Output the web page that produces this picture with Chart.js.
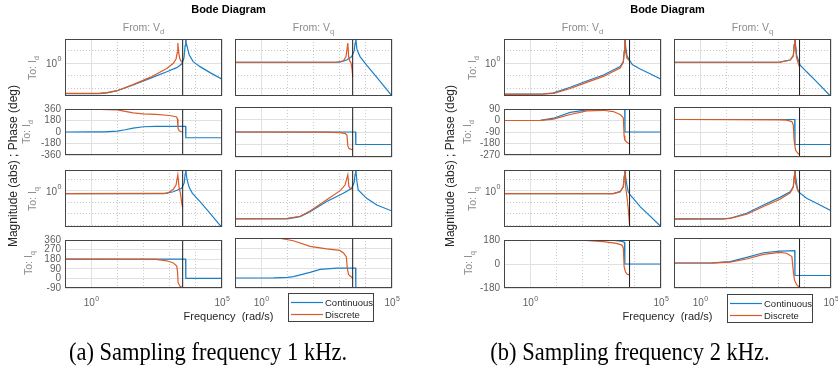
<!DOCTYPE html>
<html>
<head>
<meta charset="utf-8">
<script src="https://cdn.jsdelivr.net/npm/chart.js@4.4.1/dist/chart.umd.min.js"></script>
<style>
  body { margin: 0; background: #fff; }
  #page { position: relative; width: 838px; height: 370px; overflow: hidden; font-family: "Liberation Sans", Arial, sans-serif; }
  #page canvas { position: absolute; }
  .t { position: absolute; white-space: nowrap; line-height: 1; }
  .s { font-size: 72%; position: relative; top: 0.4em; }
  .cap { font-family: "Liberation Serif", "Times New Roman", serif; font-size: 22.5px; color: #000; }
  .legend { position: absolute; z-index: 5; background: #fff; border: 1px solid #404040; box-sizing: border-box; font-size: 9.5px; color: #262626; }
  .legend svg { position: absolute; left: 0; top: 0; }
  .legend .tx { position: absolute; line-height: 1; }
</style>
</head>
<body>
<div id="page"></div>
<script>
// frequency in rad/s, magnitude in abs, phase in deg
// (a) fs = 1 kHz, (b) fs = 2 kHz
// names: <fig><Mag|Ph><To><From>_<Cont|Disc>, e.g. aMagDQ = fig (a), from Vq to Id

const seriesNames = ['Continuous', 'Discrete'];
const seriesColors = ['#1a7fc6', '#dc5a26'];
const nyquist = [3142, 6283];

const xTickValues = [0.1, 1, 10, 100, 1000, 10000, 100000];
const xTickText = ['', '10^0', '', '', '', '', '10^5'];
const magTicksTop = [0.01, 0.1, 1, 10];
const magTicksLow = [0.001, 0.01, 0.1, 1, 10];
const magTickText = { 1: '10^0' };
const magRangeTop = [0.0025, 85];
const magRangeLow = [0.00074, 67];
const aPhTicksD = [-360, -180, 0, 180, 360];
const aPhTicksQ = [-90, 0, 90, 180, 270, 360];
const bPhTicksD = [-270, -180, -90, 0, 90];
const bPhTicksQ = [-180, 0, 180];

// ---- (a) 1 kHz ----
const aMagDD_Cont = [[0.1,0.0038],[2,0.0038],[4,0.0045],[9.5,0.0063],[40,0.0186],[178,0.063],[776,0.21],[1860,0.45],[2880,0.87],[3500,2.5],[3900,25],[4100,300],[4300,40],[4800,16],[5600,4.6],[7900,1.35],[14500,0.54],[35000,0.18],[100000,0.054]];
const aMagDD_Disc = [[0.1,0.004],[2,0.004],[4,0.0047],[9.5,0.0066],[40,0.02],[178,0.075],[776,0.38],[1380,1.0],[1750,2.2],[1950,7],[2050,40],[2200,8],[2400,2.6],[2700,1.5],[3142,1.26]];
const aMagDQ_Cont = [[0.1,1.2],[500,1.2],[1000,1.25],[1860,1.8],[2900,3.4],[3600,10],[3900,40],[4100,300],[4300,40],[4600,12],[6000,3.4],[10700,0.72],[26300,0.075],[100000,0.0025]];
const aMagDQ_Disc = [[0.1,1.2],[700,1.2],[1380,1.5],[1750,3.4],[2050,40],[2200,3.5],[2400,1.6],[2700,1.1],[2950,0.4],[3142,0.08]];
const aPhDD_Cont = [[0.1,0],[1,2],[3,3],[10,15],[20,35],[40,62],[100,82],[300,89],[4050,90],[4150,-90],[100000,-90]];
const aPhDD_Disc = [[0.1,360],[1,358],[10,345],[40,300],[100,285],[300,275],[1000,258],[1850,235],[1980,200],[2080,60],[2300,20],[2700,8],[3142,0]];
const aPhDQ_Cont = [[0.1,0],[4050,0],[4150,-180],[100000,-180]];
const aPhDQ_Disc = [[0.1,0],[300,-2],[1000,-8],[1600,-20],[1900,-45],[2050,-200],[2300,-240],[3142,-255]];
const aMagQD_Cont = [[0.1,0.59],[600,0.6],[1380,0.86],[2880,1.7],[3600,5],[3900,30],[4100,300],[4300,30],[4600,10],[5600,2],[7400,0.63],[14500,0.12],[35000,0.0115],[83000,0.0011],[100000,0.00074]];
const aMagQD_Disc = [[0.1,0.59],[800,0.62],[1380,1.4],[1750,3.3],[2050,25],[2300,2],[2600,0.6],[2900,0.085],[3142,0.04]];
const aMagQQ_Cont = [[0.1,0.0037],[10,0.0038],[31,0.0059],[74,0.016],[320,0.12],[1380,0.63],[2880,1.7],[3600,6],[3900,30],[4100,300],[4300,30],[4600,6],[5100,1.23],[10700,0.23],[26300,0.06],[100000,0.018]];
const aMagQQ_Disc = [[0.1,0.004],[10,0.0041],[31,0.0064],[74,0.018],[320,0.17],[1050,1.07],[1600,3.3],[2050,25],[2250,2.5],[2600,1.6],[3142,1.5]];
const aPhQD_Cont = [[0.1,180],[4050,180],[4150,0],[100000,0]];
const aPhQD_Disc = [[0.1,180],[300,178],[780,165],[1380,145],[1860,115],[2000,60],[2100,-40],[2500,-75],[3142,-85]];
const aPhQQ_Cont = [[0.1,0],[3,1],[10,5],[17,12],[74,51],[180,78],[780,88],[4050,90],[4150,-90],[100000,-90]];
const aPhQQ_Disc = [[0.1,360],[5,358],[17,335],[74,285],[320,262],[1000,248],[1400,225],[1800,190],[1950,90],[2200,30],[3142,0]];

// ---- (b) 2 kHz ----
const bMagDD_Cont = [[0.1,0.0035],[3,0.0036],[7.8,0.0044],[34,0.0123],[145,0.039],[630,0.117],[2750,0.54],[3630,1.35],[3950,10],[4150,300],[4400,25],[5000,4],[6200,1.8],[8000,0.8],[16000,0.35],[40000,0.14],[100000,0.054]];
const bMagDD_Disc = [[0.1,0.0034],[3,0.0035],[7.8,0.004],[34,0.0098],[145,0.03],[630,0.09],[2750,0.42],[3630,1.2],[3950,8],[4150,300],[4400,10],[5000,2.5],[6283,1.6]];
const bMagDQ_Cont = [[0.1,1.2],[1100,1.22],[2750,1.8],[3630,4],[3950,30],[4150,300],[4400,30],[4900,4],[6600,0.72],[11700,0.21],[28000,0.035],[100000,0.0022]];
const bMagDQ_Disc = [[0.1,1.2],[1100,1.22],[2750,1.8],[3630,4],[3950,30],[4150,300],[4400,20],[4800,3],[5600,1.0],[6283,0.5]];
const bPhDD_Cont = [[0.1,0],[2.5,1],[7.8,18],[34,63],[145,83],[630,88],[4100,89],[4200,-90],[100000,-90]];
const bPhDD_Disc = [[0.1,0],[2.5,1],[7.8,11],[34,47],[145,75],[630,80],[1500,70],[2750,47],[3300,30],[3630,20],[3900,-120],[4150,-155],[5000,-170],[6283,-185]];
const bPhDQ_Cont = [[0.1,0],[4100,0],[4200,-180],[100000,-180]];
const bPhDQ_Disc = [[0.1,0],[1000,-2],[2000,-5],[3200,-15],[3630,-40],[3900,-150],[4400,-220],[5500,-245],[6283,-252]];
const bMagQD_Cont = [[0.1,0.59],[1500,0.6],[2750,0.87],[3630,2.4],[3950,20],[4150,300],[4400,20],[5000,3],[5600,0.87],[6600,0.45],[8700,0.23],[16000,0.044],[100000,0.0008]];
const bMagQD_Disc = [[0.1,0.59],[1500,0.6],[2750,0.87],[3630,2.4],[3950,20],[4150,300],[4400,3],[5000,0.3],[5600,0.03],[6283,0.0012]];
const bMagQQ_Cont = [[0.1,0.0037],[7.8,0.0038],[14,0.0043],[60,0.0115],[263,0.06],[1120,0.28],[2750,0.87],[3630,2.4],[3950,20],[4150,300],[4400,20],[5000,3],[5600,0.87],[11700,0.23],[28000,0.085],[100000,0.019]];
const bMagQQ_Disc = [[0.1,0.0036],[7.8,0.0037],[14,0.0041],[60,0.0095],[263,0.045],[1120,0.19],[2750,0.7],[3630,2.2],[3950,20],[4150,300],[4400,5],[5200,1.3],[6283,0.87]];
const bPhQD_Cont = [[0.1,180],[1000,180],[2000,176],[3200,170],[4000,163],[4150,0],[100000,0]];
const bPhQD_Disc = [[0.1,180],[100,178],[630,168],[2000,155],[3200,142],[3630,120],[3900,-20],[4400,-60],[5000,-75],[6283,-82]];
const bPhQQ_Cont = [[0.1,0],[3,1],[14,10],[60,41],[263,74],[1120,86],[4100,89],[4200,-90],[100000,-90]];
const bPhQQ_Disc = [[0.1,0],[3,0.5],[14,6],[60,29],[263,62],[1120,77],[2000,70],[3200,46],[3630,-60],[4000,-122],[4900,-158],[6283,-175]];

const ROW_TOP = [39, 107, 170, 238];
const ROW_H = [57, 50, 57, 50];
const PLOT_W = 157;
const page = document.getElementById('page');

const figs = [
  {
    left: [65, 235], center: 228.5, nyq: nyquist[0], phTicks: [aPhTicksD, aPhTicksQ],
    toX: [31.5, 26, 31.5, 28], ylabX: 13, legend: [288, 293], capX: 208,
    caption: '(a) Sampling frequency 1 kHz.',
    curves: [
      [[aMagDD_Cont, aMagDD_Disc], [aMagDQ_Cont, aMagDQ_Disc]],
      [[aPhDD_Cont, aPhDD_Disc], [aPhDQ_Cont, aPhDQ_Disc]],
      [[aMagQD_Cont, aMagQD_Disc], [aMagQQ_Cont, aMagQQ_Disc]],
      [[aPhQD_Cont, aPhQD_Disc], [aPhQQ_Cont, aPhQQ_Disc]]
    ]
  },
  {
    left: [504, 674], center: 667.5, nyq: nyquist[1], phTicks: [bPhTicksD, bPhTicksQ],
    toX: [471.5, 467, 471.5, 467.5], ylabX: 450, legend: [727, 294], capX: 630,
    caption: '(b) Sampling frequency 2 kHz.',
    curves: [
      [[bMagDD_Cont, bMagDD_Disc], [bMagDQ_Cont, bMagDQ_Disc]],
      [[bPhDD_Cont, bPhDD_Disc], [bPhDQ_Cont, bPhDQ_Disc]],
      [[bMagQD_Cont, bMagQD_Disc], [bMagQQ_Cont, bMagQQ_Disc]],
      [[bPhQD_Cont, bPhQD_Disc], [bPhQQ_Cont, bPhQQ_Disc]]
    ]
  }
];

const boxPlugin = {
  id: 'box',
  afterDraw(chart) {
    const a = chart.chartArea, ctx = chart.ctx;
    ctx.save();
    ctx.strokeStyle = '#454545';
    ctx.lineWidth = 1;
    ctx.strokeRect(a.left + 0.5, a.top + 0.5, a.right - a.left - 1, a.bottom - a.top - 1);
    ctx.restore();
  }
};

// draws "10^n" tick labels with a raised exponent, at the scale's own pixel positions
function drawPow(ctx, label, x, y, align) {
  const parts = label.split('^');
  ctx.font = '10px "Liberation Sans"';
  const wb = ctx.measureText(parts[0]).width;
  ctx.font = '7px "Liberation Sans"';
  const we = ctx.measureText(parts[1]).width;
  const x0 = align === 'right' ? x - wb - we : x - (wb + we) / 2;
  ctx.font = '10px "Liberation Sans"';
  ctx.fillText(parts[0], x0, y);
  ctx.font = '7px "Liberation Sans"';
  ctx.fillText(parts[1], x0 + wb + 0.5, y - 5.5);
}

const powPlugin = {
  id: 'pow',
  afterDraw(chart, args, opts) {
    const ctx = chart.ctx, a = chart.chartArea;
    ctx.save();
    ctx.fillStyle = '#5f5f5f';
    ctx.textAlign = 'left';
    ctx.textBaseline = 'alphabetic';
    if (opts.x) {
      xTickValues.forEach((v, i) => {
        if (xTickText[i]) drawPow(ctx, xTickText[i], chart.scales.x.getPixelForValue(v), a.bottom + 18, 'center');
      });
    }
    if (opts.y) {
      Object.keys(magTickText).forEach(k => {
        drawPow(ctx, magTickText[k], a.left - 4, chart.scales.y.getPixelForValue(Number(k)) + 3.6, 'right');
      });
    }
    ctx.restore();
  }
};

function gridStyle(isMajor) {
  const major = c => !c.tick || isMajor(c.tick.value);
  return {
    grid: { drawTicks: false, lineWidth: 1, color: c => major(c) ? '#e0e0e0' : '#c8c8c8' },
    border: { display: false, dash: c => major(c) ? [] : [1, 2] }
  };
}

const tickFont = { family: 'Liberation Sans', size: 10 };

function line(pts, color, order, width) {
  return {
    data: pts.map(p => ({ x: p[0], y: p[1] })),
    borderColor: color, borderWidth: width, pointRadius: 0,
    fill: false, tension: 0, order: order
  };
}

function panel(fig, row, col) {
  const left = fig.left[col], top = ROW_TOP[row], h = ROW_H[row];
  const showY = col === 0, showX = row === 3, isMag = row % 2 === 0;
  const L = showY ? 44 : 8, T = 8, R = 14, B = showX ? 26 : 8;
  const cv = document.createElement('canvas');
  cv.width = L + PLOT_W + R;
  cv.height = T + h + B;
  cv.style.left = (left - L) + 'px';
  cv.style.top = (top - T) + 'px';
  page.appendChild(cv);

  let yScale, yMin, yMax;
  if (isMag) {
    const ticks = row === 0 ? magTicksTop : magTicksLow;
    const range = row === 0 ? magRangeTop : magRangeLow;
    yMin = range[0]; yMax = range[1];
    yScale = Object.assign({
      type: 'logarithmic', min: yMin, max: yMax,
      afterBuildTicks: s => { s.ticks = ticks.map(v => ({ value: v })); },
      ticks: { display: false }
    }, gridStyle(v => v === 1));
  } else {
    const ticks = fig.phTicks[row === 1 ? 0 : 1];
    yMin = ticks[0]; yMax = ticks[ticks.length - 1];
    yScale = Object.assign({
      type: 'linear', min: yMin, max: yMax,
      afterBuildTicks: s => { s.ticks = ticks.map(v => ({ value: v })); },
      ticks: { display: showY, autoSkip: false, padding: 4, font: tickFont, color: '#5f5f5f',
               callback: v => String(v) }
    }, gridStyle(() => true));
  }
  yScale.afterFit = s => { s.width = L; };

  const xScale = Object.assign({
    type: 'logarithmic', min: xTickValues[0], max: xTickValues[xTickValues.length - 1],
    afterBuildTicks: s => { s.ticks = xTickValues.map(v => ({ value: v })); },
    afterFit: s => { s.height = B; },
    ticks: { display: false }
  }, gridStyle(v => v === 1 || v === 0.1 || v === 100000));

  const pair = fig.curves[row][col];
  new Chart(cv, {
    type: 'line',
    data: {
      datasets: [
        line(pair[0], seriesColors[0], 2, 1.2),
        line(pair[1], seriesColors[1], 1, 1.2),
        line([[fig.nyq, yMin], [fig.nyq, yMax]], '#1a1a1a', 0, 1)
      ]
    },
    options: {
      responsive: false, animation: false, devicePixelRatio: 1,
      layout: { padding: { left: 0, top: T, right: R, bottom: 0 } },
      plugins: {
        legend: { display: false }, tooltip: { enabled: false },
        pow: { x: showX, y: showY && isMag }
      },
      scales: { x: xScale, y: yScale }
    },
    plugins: [boxPlugin, powPlugin]
  });
}

function text(html, x, y, css, rotate) {
  const d = document.createElement('div');
  d.className = 't';
  d.innerHTML = html;
  d.style.left = x + 'px';
  d.style.top = y + 'px';
  d.style.transform = 'translate(-50%,-50%)' + (rotate ? ' rotate(-90deg)' : '');
  Object.assign(d.style, css);
  page.appendChild(d);
  return d;
}

function legend(x, y) {
  const lg = document.createElement('div');
  lg.className = 'legend';
  Object.assign(lg.style, { left: x + 'px', top: y + 'px', width: '86px', height: '29px' });
  let svg = '<svg width="86" height="29" xmlns="http://www.w3.org/2000/svg">';
  seriesNames.forEach((name, i) => {
    const ly = 8.5 + 12 * i;
    svg += '<line x1="2" x2="34" y1="' + ly + '" y2="' + ly + '" stroke="' + seriesColors[i] + '" stroke-width="1.2"/>';
  });
  svg += '</svg>';
  lg.innerHTML = svg;
  seriesNames.forEach((name, i) => {
    const tx = document.createElement('div');
    tx.className = 'tx';
    tx.textContent = name;
    Object.assign(tx.style, { left: '36px', top: (3.5 + 12 * i) + 'px' });
    lg.appendChild(tx);
  });
  page.appendChild(lg);
}

const grayLabel = { fontSize: '10.5px', color: '#8c8c8c' };
const subs = ['d', 'q'];

figs.forEach(fig => {
  for (let r = 0; r < 4; r++) for (let c = 0; c < 2; c++) panel(fig, r, c);

  text('Bode Diagram', fig.center, 9, { fontSize: '11px', fontWeight: 'bold', color: '#000' });
  fig.left.forEach((x, c) => {
    text('From: V<span class="s">' + subs[c] + '</span>', x + PLOT_W / 2, 27, grayLabel);
  });
  ROW_TOP.forEach((y, r) => {
    text('To: I<span class="s">' + subs[r < 2 ? 0 : 1] + '</span>', fig.toX[r], y + ROW_H[r] / 2, grayLabel, true);
  });
  text('Magnitude (abs) ; Phase (deg)', fig.ylabX, 166, { fontSize: '12px', color: '#262626' }, true);
  text('Frequency&nbsp;&nbsp;(rad/s)', fig.center, 316, { fontSize: '11px', color: '#262626' });

  const cap = text(fig.caption, fig.capX, 353, { transform: 'translate(-50%,-50%) scaleY(1.08)' });
  cap.classList.add('cap');
});
figs.forEach(fig => legend(fig.legend[0], fig.legend[1]));
</script>
</body>
</html>
